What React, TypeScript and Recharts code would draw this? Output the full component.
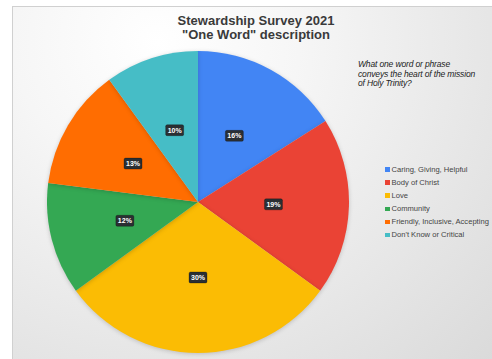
import React from "react";
import { PieChart, Pie, Cell, Legend } from "recharts";

const categories = [
  "Caring, Giving, Helpful",
  "Body of Christ",
  "Love",
  "Community",
  "Friendly, Inclusive, Accepting",
  "Don't Know or Critical",
];
const values = [16, 19, 30, 12, 13, 10];
const colors = ["#4285F4", "#EA4335", "#FBBC04", "#34A853", "#FF6D01", "#46BDC6"];
const titleLines = ["Stewardship Survey 2021", "\"One Word\" description"];
const noteLines = [
  "What one word or phrase",
  "conveys the heart of the mission",
  "of Holy Trinity?",
];

const data = categories.map((name, i) => ({ name, value: values[i] }));
const total = values.reduce((a, b) => a + b, 0);

const RAD = Math.PI / 180;
const renderLabel = (props: any) => {
  const { cx, cy, midAngle, outerRadius, value } = props;
  const r = outerRadius * 0.5;
  const x = cx + r * Math.cos(-midAngle * RAD);
  const y = cy + r * Math.sin(-midAngle * RAD);
  const text = `${Math.round((value / total) * 100)}%`;
  return (
    <g>
      <rect x={x - 9} y={y - 5.5} width={18} height={11} rx={1.5} fill="#2b2f33" stroke="rgba(0,0,0,0.25)" strokeWidth={1} />
      <text x={x} y={y + 0.5} textAnchor="middle" dominantBaseline="middle" fill="#ffffff" fontSize={7} fontWeight="bold" fontFamily="'Liberation Sans', Arial, sans-serif">
        {text}
      </text>
    </g>
  );
};

const renderLegend = (props: any) => {
  const payload = [...(props.payload || [])].sort(
    (a: any, b: any) => categories.indexOf(a.value) - categories.indexOf(b.value)
  );
  return (
    <div style={{ fontFamily: "'Liberation Sans', Arial, sans-serif", fontSize: 7.6, color: "#444", whiteSpace: "nowrap" }}>
      {payload.map((p: any, i: number) => (
        <div key={i} style={{ height: 13.1, lineHeight: "13.1px", display: "flex", alignItems: "center" }}>
          <span style={{ display: "inline-block", width: 4.5, height: 4.5, background: p.color, marginRight: 2 }} />
          <span>{p.value}</span>
        </div>
      ))}
    </div>
  );
};

export default function App() {
  return (
    <div style={{ position: "absolute", left: 0, top: 0, width: 492, height: 359, background: "#ffffff", overflow: "hidden" }}>
      <div
        style={{
          position: "absolute",
          left: 12,
          top: 6,
          width: 480,
          height: 353,
          borderLeft: "1px solid #d0d0d0",
          borderTop: "1px solid #d0d0d0",
          background: "radial-gradient(ellipse at 30% 10%, #ffffff 0%, #f6f6f6 30%, #e6e6e6 70%, #dadada 100%)",
        }}
      />
      <div style={{ position: "absolute", left: 0, top: 0 }}>
        <PieChart width={492} height={359} margin={{ top: 0, right: 0, bottom: 0, left: 0 }}>
          <Pie
            data={data}
            dataKey="value"
            nameKey="name"
            cx={198}
            cy={202}
            outerRadius={151}
            startAngle={90}
            endAngle={-270}
            stroke="none"
            labelLine={false}
            label={renderLabel}
            isAnimationActive={false}
            style={{ filter: "drop-shadow(0px 1px 2px rgba(0,0,0,0.18))" }}
          >
            {data.map((d, i) => (
              <Cell key={d.name} fill={colors[i]} />
            ))}
          </Pie>
          <Legend
            layout="vertical"
            itemSorter={null as any}
            content={renderLegend}
            wrapperStyle={{ position: "absolute", left: 385, top: 163, width: 120 }}
          />
        </PieChart>
      </div>
      <div
        style={{
          position: "absolute",
          left: 156,
          top: 14,
          width: 200,
          textAlign: "center",
          fontFamily: "'Liberation Sans', Arial, sans-serif",
          fontWeight: "bold",
          fontSize: 13,
          lineHeight: "14px",
          color: "#3a3a3a",
        }}
      >
        {titleLines.map((t) => (
          <div key={t}>{t}</div>
        ))}
      </div>
      <div
        style={{
          position: "absolute",
          left: 358,
          top: 60,
          fontFamily: "'Liberation Sans', Arial, sans-serif",
          fontStyle: "italic",
          fontSize: 8.5,
          lineHeight: "9.5px",
          color: "#222",
          whiteSpace: "nowrap",
          letterSpacing: -0.15,
        }}
      >
        {noteLines.map((t) => (
          <div key={t}>{t}</div>
        ))}
      </div>
    </div>
  );
}
